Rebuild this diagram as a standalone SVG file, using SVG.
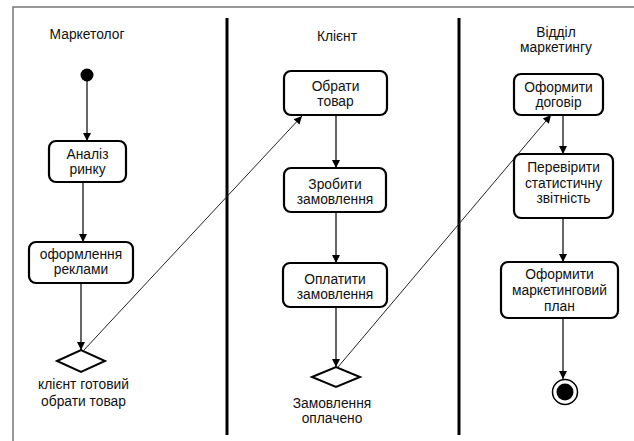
<svg xmlns="http://www.w3.org/2000/svg" width="634" height="441" viewBox="0 0 634 441">
<style>
text{font-family:"Liberation Sans",Arial,sans-serif;font-size:13.8px;fill:#111;text-anchor:middle}
.box{fill:#fff;stroke:#000;stroke-width:2.2}
.flow{stroke:#000;stroke-width:1.2;fill:none}
.cross{stroke:#222;stroke-width:1;fill:none}
.frame{stroke:#777;stroke-width:1.5;fill:none}
.lane{stroke:#000;stroke-width:3}
</style>
<defs>
<marker id="ah" viewBox="0 0 10 10" refX="10" refY="5" markerWidth="10" markerHeight="8" markerUnits="userSpaceOnUse" orient="auto">
<path d="M0,0 L10,5 L0,10 z" fill="#000"/>
</marker>
</defs>
<rect width="634" height="441" fill="#fff"/>
<g id="frame">
<path class="frame" d="M13,441 V7 H634"/>
<line class="lane" x1="227" y1="18" x2="227" y2="435"/>
<line class="lane" x1="459" y1="18" x2="459" y2="435"/>
</g>
<g id="lane-titles">
<text x="87" y="39">Маркетолог</text>
<text x="337" y="41">Клієнт</text>
<text x="556" y="37">Відділ</text>
<text x="556" y="52">маркетингу</text>
</g>
<g id="connectors">
<line class="flow" x1="87" y1="81" x2="87" y2="141" marker-end="url(#ah)"/>
<line class="flow" x1="83" y1="182" x2="83" y2="242" marker-end="url(#ah)"/>
<line class="flow" x1="81" y1="283" x2="81" y2="350" marker-end="url(#ah)"/>
<line class="flow" x1="336" y1="115" x2="336" y2="168" marker-end="url(#ah)"/>
<line class="flow" x1="336" y1="212" x2="336" y2="263" marker-end="url(#ah)"/>
<line class="flow" x1="336" y1="307" x2="336" y2="367" marker-end="url(#ah)"/>
<line class="flow" x1="563" y1="115" x2="563" y2="154" marker-end="url(#ah)"/>
<line class="flow" x1="563" y1="218" x2="563" y2="262" marker-end="url(#ah)"/>
<line class="flow" x1="563" y1="318" x2="563" y2="379" marker-end="url(#ah)"/>
<line class="cross" x1="84" y1="350" x2="302" y2="116" marker-end="url(#ah)"/>
<line class="cross" x1="338" y1="367" x2="551" y2="115" marker-end="url(#ah)"/>
</g>
<g id="start">
<circle cx="87" cy="75" r="6.5" fill="#000"/>
</g>
<g id="analiz">
<rect class="box" x="49" y="141" width="77" height="41" rx="7"/>
<text x="87.5" y="158.5">Аналіз</text>
<text x="87.5" y="173.5">ринку</text>
</g>
<g id="reklama">
<rect class="box" x="29" y="242" width="104" height="41" rx="7"/>
<text x="81" y="259">оформлення</text>
<text x="81" y="274">реклами</text>
</g>
<g id="decision1">
<polygon points="57,361 81,350 105,361 81,372" fill="#fff" stroke="#000" stroke-width="2"/>
<text x="83.5" y="389">клієнт готовий</text>
<text x="83.5" y="406">обрати товар</text>
</g>
<g id="obraty">
<rect class="box" x="284" y="71" width="103" height="44" rx="7"/>
<text x="335.5" y="91">Обрати</text>
<text x="335.5" y="105.5">товар</text>
</g>
<g id="zrobyty">
<rect class="box" x="284" y="168" width="102" height="44" rx="7"/>
<text x="335" y="188.5">Зробити</text>
<text x="335" y="204">замовлення</text>
</g>
<g id="oplatyty">
<rect class="box" x="283" y="263" width="104" height="44" rx="7"/>
<text x="335" y="284">Оплатити</text>
<text x="335" y="298.5">замовлення</text>
</g>
<g id="decision2">
<polygon points="312,377 336,367 360,377 336,387" fill="#fff" stroke="#000" stroke-width="2"/>
<text x="332" y="408">Замовлення</text>
<text x="332" y="423">оплачено</text>
</g>
<g id="dogovir">
<rect class="box" x="514" y="74" width="89" height="41" rx="7"/>
<text x="558.5" y="92">Оформити</text>
<text x="558.5" y="106.5">договір</text>
</g>
<g id="perevirka">
<rect class="box" x="514" y="154" width="99" height="64" rx="7"/>
<text x="563.5" y="172">Перевірити</text>
<text x="563.5" y="187.5">статистичну</text>
<text x="563.5" y="203">звітність</text>
</g>
<g id="plan">
<rect class="box" x="501" y="262" width="117" height="56" rx="7"/>
<text x="559.5" y="279">Оформити</text>
<text x="559.5" y="295">маркетинговий</text>
<text x="559.5" y="311">план</text>
</g>
<g id="end">
<circle cx="565" cy="392" r="12.5" fill="#fff" stroke="#000" stroke-width="1.5"/>
<circle cx="565" cy="392" r="8.5" fill="#000"/>
</g>
</svg>
